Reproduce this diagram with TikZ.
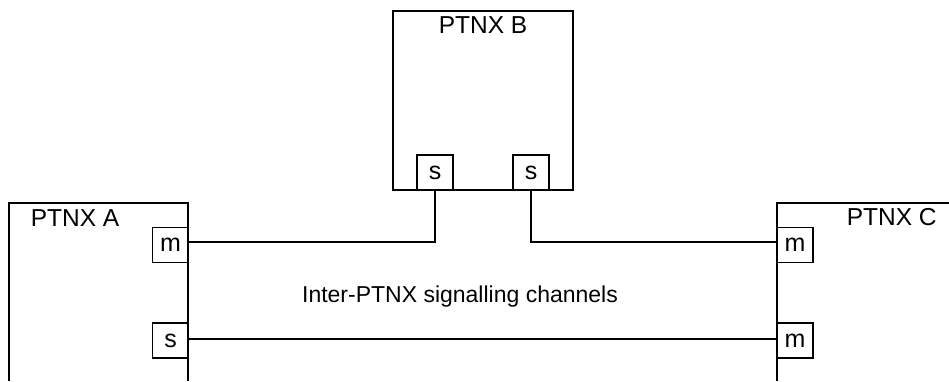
\documentclass[tikz,border=0pt]{standalone}
\usepackage{fontspec}
\setmainfont{Liberation Sans}
\usetikzlibrary{calc}

\tikzset{
  frame/.style={line width=1.6pt},
  port/.style={draw,line width=1.6pt,minimum width=36pt,minimum height=35pt,inner sep=0pt,font=\fontsize{25}{28}\selectfont},
  lbl/.style={anchor=base,inner sep=0pt,font=\fontsize{24.5}{28}\selectfont},
  chan/.style={line width=1.6pt}
}

\begin{document}
\begin{tikzpicture}[x=1pt,y=-1pt]
\useasboundingbox (0,0) rectangle (949,381);

% ======================= PTNX A: open at the bottom =======
\draw[frame] (188,381) -- (188,203) -- (9,203) -- (9,381);
\node[lbl] (labA) at (75,226.7) {PTNX A};
\node[port] (Am) at (170.5,245) {m};
\node[port] (As) at (170.5,340.5) {s};

% ======================= PTNX B =======
\draw[frame] (393,11) rectangle (573,190);
\node[lbl] (labB) at (483,33.3) {PTNX B};
\node[port] (Bs1) at (435,172.5) {s};
\node[port] (Bs2) at (531,172.5) {s};

% ======================= PTNX C: open right and bottom =======
\draw[frame] (949,203) -- (777,203) -- (777,381);
\node[lbl] (labC) at (891.7,225) {PTNX C};
\node[port] (Cm1) at (795,245) {m};
\node[port] (Cm2) at (795,340.5) {m};

% the signalling channels
\draw[chan] (Bs1.south) |- ([yshift=3pt]Am.east);
\draw[chan] (Bs2.south) |- ([yshift=3pt]Cm1.west);
\draw[chan] ([yshift=1.5pt]As.east) -- ([yshift=1.5pt]Cm2.west);
\node[lbl,font=\fontsize{23}{26}\selectfont] (chanlab) at (460,302.7) {Inter-PTNX signalling channels};

\end{tikzpicture}
\end{document}
